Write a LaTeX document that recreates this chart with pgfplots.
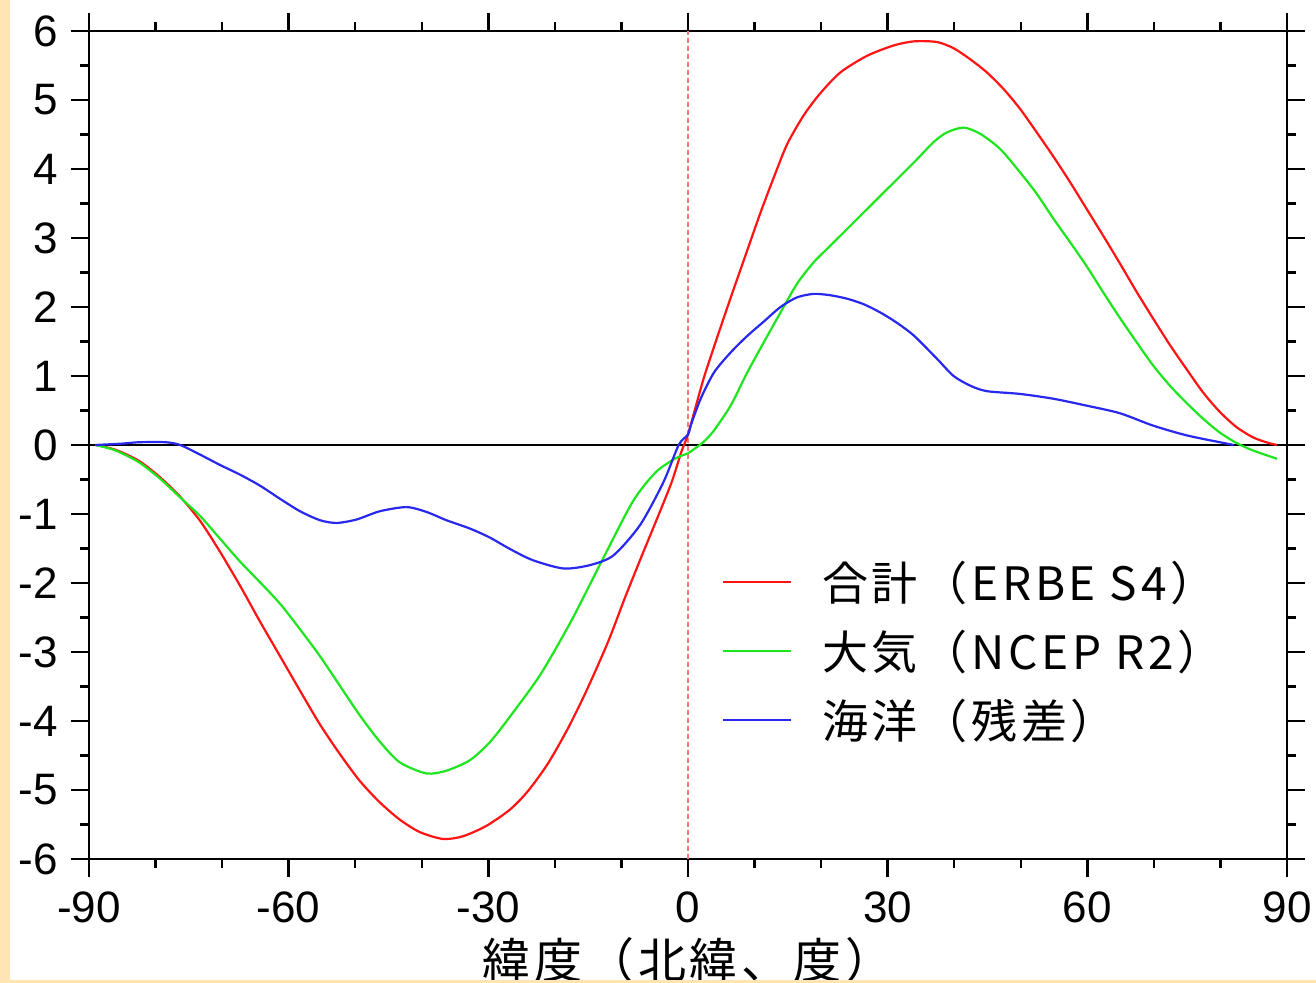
\documentclass[border=0pt]{standalone}
\usepackage{pgfplots}
\pgfplotsset{compat=1.18}
\usepackage{fontspec}
\setmainfont{Liberation Sans}
\newfontfamily\jp{Noto Sans CJK JP}[LetterSpace=8]
\definecolor{beige}{RGB}{255,229,180}
\definecolor{cred}{RGB}{255,20,20}
\definecolor{cgreen}{RGB}{30,230,30}
\definecolor{cblue}{RGB}{40,40,240}
\definecolor{cpink}{RGB}{255,120,120}
\begin{document}
\begin{tikzpicture}
\path[use as bounding box, fill=white] (-44.5pt,-62pt) rectangle (613.5pt,429.5pt);
\begin{axis}[
  at={(0pt,0pt)}, anchor=south west,
  scale only axis, width=599pt, height=414pt,
  xmin=-90, xmax=90, ymin=-6, ymax=6,
  xtick={-90,-60,...,90}, minor xtick={-80,-70,...,80},
  ytick={-6,-5,...,6}, minor ytick={-5.5,-4.5,...,5.5},
  tick align=outside, major tick length=9pt, minor tick length=4.5pt,
  every tick/.style={black, line width=1.2pt},
  axis line style={black, line width=1.3pt},
  xticklabel pos=left, yticklabel pos=left,
  /pgf/number format/assume math mode=true,
  ticklabel style={font=\fontsize{22}{24}\selectfont},
  xticklabel style={yshift=-4pt},
  yticklabel style={xshift=-3pt},
  xlabel={\jp 緯度（北緯、度）},
  xlabel style={font=\fontsize{24}{27}\selectfont, at={(rel axis cs:0.5,0)}, anchor=north, inner sep=0pt, yshift=-39pt},
  legend style={at={(axis cs:5.1,-1.67)}, anchor=north west, draw=none, fill=none,
    inner sep=0pt, outer sep=0pt, row sep=13pt,
    font=\jp\fontsize{23}{26}\selectfont,
    nodes={inner sep=0pt},
    /tikz/every odd column/.append style={column sep=15pt}},
  legend image code/.code={\draw[#1, line width=1.2pt] (0pt,0pt) -- (34pt,0pt);},
  legend cell align=left,
]
\addplot[cpink, line width=0.7pt, dash pattern=on 2.5pt off 1.5pt, forget plot] coordinates {(0,-6) (0,6)};
\addplot[black, line width=1.1pt, forget plot] coordinates {(-90,0) (90,0)};
\addplot[cred, line width=1.1pt, smooth, tension=0.45] coordinates {
(-89,0)(-86,-0.07)(-82.5,-0.23)(-79.3,-0.47)(-76.3,-0.75)(-73.3,-1.1)(-70.3,-1.55)(-67.3,-2.04)(-64.3,-2.56)(-61.3,-3.06)(-58.3,-3.56)(-55.3,-4.05)(-52.3,-4.48)(-49.3,-4.87)(-46.3,-5.18)(-43.3,-5.43)(-40.3,-5.61)(-36.8,-5.71)(-33.8,-5.67)(-30.3,-5.52)(-26.7,-5.28)(-24,-5.01)(-21,-4.61)(-18,-4.1)(-15.2,-3.55)(-12,-2.85)(-9.5,-2.22)(-7,-1.62)(-5,-1.15)(-2.5,-0.55)(-1,-0.1)(0,0.15)(1,0.5)(2.4,0.98)(3.9,1.42)(5.4,1.85)(6.9,2.27)(8.9,2.82)(10.9,3.37)(12.9,3.88)(14.9,4.36)(17.4,4.78)(19.9,5.1)(22.9,5.4)(26.9,5.64)(30.9,5.79)(34,5.85)(37.4,5.84)(39.9,5.75)(42.4,5.59)(44.9,5.4)(47.4,5.16)(49.9,4.87)(52.4,4.53)(54.9,4.18)(57.4,3.81)(59.9,3.42)(62.4,3.03)(64.9,2.63)(67.4,2.22)(69.9,1.83)(72.4,1.45)(74.9,1.1)(77.4,0.76)(79.9,0.48)(82.4,0.26)(84.9,0.11)(87.2,0.03)(88.5,0)};
\addlegendentry{\rule[-6pt]{0pt}{26pt}合計（ERBE S4）}
\addplot[cgreen, line width=1.1pt, smooth, tension=0.45] coordinates {
(-89,0)(-86,-0.08)(-82.5,-0.25)(-79.3,-0.49)(-76.3,-0.76)(-73.3,-1.03)(-70.3,-1.36)(-67.3,-1.69)(-64.3,-1.99)(-61.3,-2.3)(-58.3,-2.67)(-55.3,-3.06)(-52.3,-3.49)(-49.3,-3.92)(-46.3,-4.3)(-43.3,-4.6)(-39.3,-4.76)(-36.3,-4.72)(-32.8,-4.57)(-29.8,-4.31)(-26.7,-3.93)(-22.2,-3.33)(-17.6,-2.56)(-13,-1.69)(-8.3,-0.82)(-4.9,-0.4)(-2,-0.2)(0,-0.12)(0.9,-0.06)(2.4,0.05)(3.9,0.21)(6.4,0.57)(8.9,1.05)(11.4,1.49)(13.9,1.92)(16.4,2.34)(18.9,2.65)(21.4,2.89)(23.9,3.13)(28.9,3.61)(34,4.1)(36.9,4.39)(38.9,4.53)(41.4,4.6)(43.9,4.51)(46.9,4.29)(49.9,3.95)(52.4,3.64)(54.9,3.28)(57.4,2.94)(59.9,2.59)(62.4,2.21)(64.9,1.84)(67.4,1.49)(69.9,1.15)(72.4,0.86)(74.9,0.61)(77.4,0.38)(79.9,0.18)(82.4,0.03)(84.9,-0.08)(88.5,-0.2)};
\addlegendentry{\rule[-6pt]{0pt}{26pt}大気（NCEP R2）}
\addplot[cblue, line width=1.1pt, smooth, tension=0.45] coordinates {
(-89,0)(-85,0.02)(-82.5,0.04)(-78.5,0.04)(-76.3,0.0)(-73.3,-0.14)(-70.3,-0.29)(-67.3,-0.43)(-64.3,-0.59)(-61.3,-0.78)(-58.3,-0.96)(-55.3,-1.09)(-52.8,-1.13)(-49.8,-1.08)(-46.3,-0.96)(-42.3,-0.9)(-39.3,-0.97)(-36.3,-1.09)(-32.8,-1.21)(-29.8,-1.34)(-26.7,-1.51)(-23.3,-1.67)(-18.7,-1.79)(-14.7,-1.74)(-11.2,-1.6)(-7.2,-1.16)(-3.7,-0.54)(-1.4,0)(0,0.15)(0.4,0.28)(1.9,0.67)(3.9,1.05)(6.4,1.34)(8.9,1.58)(11.4,1.79)(13.9,2.0)(16.4,2.14)(18.9,2.19)(21.4,2.17)(23.9,2.12)(26.4,2.04)(28.9,1.92)(31.4,1.77)(34,1.58)(37.4,1.25)(39.9,1.0)(42.4,0.86)(44.9,0.78)(49.9,0.74)(54.9,0.67)(59.9,0.57)(64.9,0.46)(69.9,0.28)(74.9,0.14)(79.9,0.04)(82,0)};
\addlegendentry{\rule[-6pt]{0pt}{26pt}海洋（残差）}
\end{axis}
\fill[beige] (-44.5pt,-62pt) rectangle (-39.5pt,429.5pt);
\fill[beige] (-44.5pt,-62pt) rectangle (613.5pt,-60.5pt);
\end{tikzpicture}
\end{document}
